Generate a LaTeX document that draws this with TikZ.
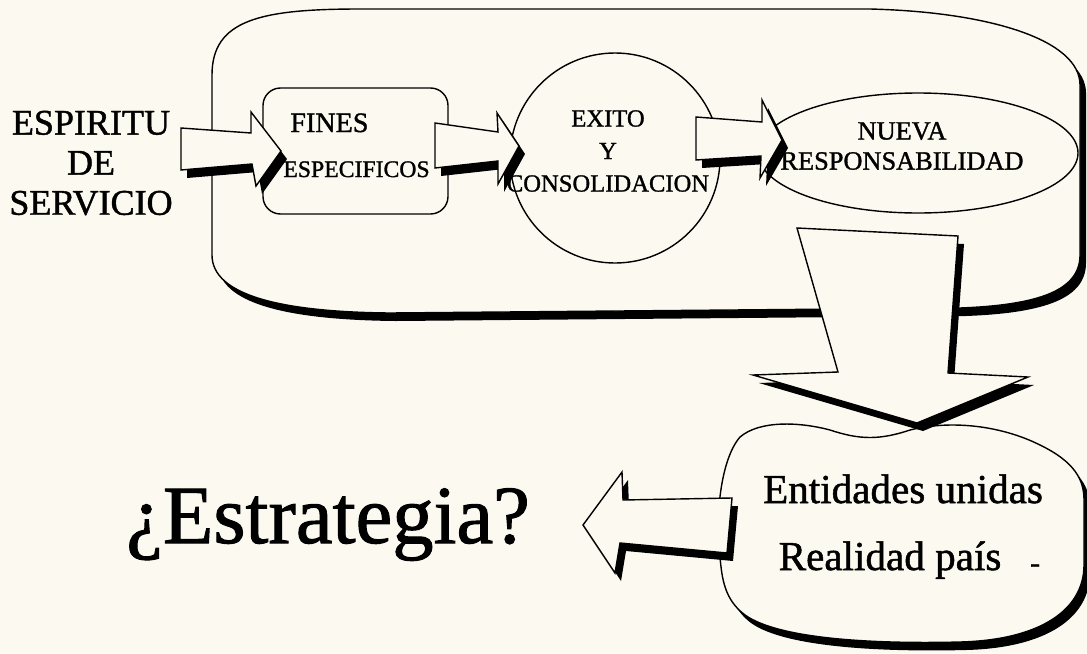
\documentclass[tikz,border=0pt]{standalone}
\usepackage{fontspec}
\setmainfont{Liberation Serif}[FakeBold=1.2]
\usetikzlibrary{shapes.geometric, shadows}

\definecolor{papel}{RGB}{252,250,240}

\begin{document}
\begin{tikzpicture}[x=0.2mm, y=-0.2mm,
  borde/.style={draw=black, line width=0.8pt, fill=papel},
  sombra/.style={borde, drop shadow={shadow xshift=1.2mm, shadow yshift=-1.6mm, fill=black, opacity=1}},
  texto/.style={align=center, inner sep=0pt}]

  % Fondo
  \clip (0,0) rectangle (1087,653);
  \useasboundingbox (0,0) rectangle (1087,653);
  \fill[papel] (0,0) rectangle (1087,653);

  % Marco grande
  \path[sombra] (212,255) -- (212,75) .. controls (212,20) and (260,9) .. (360,9)
    -- (870,9) .. controls (990,12) and (1080,40) .. (1080,85)
    -- (1080,255) .. controls (1080,290) and (1040,305) .. (960,308)
    -- (390,313) .. controls (280,312) and (212,295) .. (212,255) -- cycle;

  % Cajas del proceso
  \node[borde, rounded corners=3.5mm, minimum width=37mm, minimum height=25.2mm, inner sep=0pt] (fines) at (355.5,151) {};
  \node[borde, circle, minimum size=42mm, inner sep=0pt] (exito) at (615,158) {};
  \node[borde, ellipse, minimum width=64mm, minimum height=24mm, inner sep=0pt] (nueva) at (918,153) {};

  % Textos
  \node[texto, font=\fontsize{20.5}{22.8}\selectfont] (espiritu) at (91,163) {ESPIRITU\\DE\\SERVICIO};
  \node[anchor=base west, inner sep=0pt, font=\fontsize{16}{19}\selectfont] (fines-a) at (290,132) {FINES};
  \node[anchor=base west, inner sep=0pt, font=\fontsize{13.5}{16}\selectfont] (fines-b) at (283,177) {ESPECIFICOS};
  \node[texto, font=\fontsize{14}{18.5}\selectfont] (exito-t) at (608,151) {EXITO\\Y\\CONSOLIDACION};
  \node[texto, font=\fontsize{15}{17.1}\selectfont] (nueva-t) at (902,146) {NUEVA\\RESPONSABILIDAD};

  % Flechas del proceso
  \path[sombra] (181,128) -- (251,133) -- (251,112) -- (281,151) -- (256,186) -- (252,164) -- (181,170) -- cycle;
  \path[sombra] (435,123) -- (498,132) -- (497,113) -- (519,146) -- (498,184) -- (498,161) -- (435,168) -- cycle;
  \path[sombra] (696,117) -- (762,122) -- (762,100) -- (782,140) -- (760,178) -- (761,156) -- (696,160) -- cycle;

  % Nube inferior
  \path[sombra] (720,557) .. controls (715,520) and (720,460) .. (740,437)
    .. controls (760,420) and (800,422) .. (830,430)
    .. controls (860,440) and (880,440) .. (910,430)
    .. controls (950,420) and (1000,425) .. (1040,445)
    .. controls (1075,462) and (1084,480) .. (1084,500)
    -- (1084,565) .. controls (1084,610) and (1040,640) .. (960,642)
    .. controls (880,644) and (780,640) .. (745,615)
    .. controls (725,600) and (722,580) .. (720,557) -- cycle;

  % Flecha hacia abajo
  \path[sombra] (797,228) -- (958,236) -- (948,373) -- (1028,377) -- (917,423) -- (753,375) -- (838,372) -- cycle;

  % Flecha hacia la izquierda
  \path[sombra] (732,498) -- (623,500) -- (622,472) -- (583,525) -- (615,573) -- (620,543) -- (727,553) -- cycle;

  \node[anchor=base, inner sep=0pt, font=\fontsize{23.4}{28}\selectfont] (entidades) at (903,503) {Entidades unidas};
  \node[anchor=base, inner sep=0pt, font=\fontsize{23.4}{28}\selectfont] (realidad) at (890,570) {Realidad país\rlap{\hspace{0.7em}\raisebox{-1.5pt}{\fontsize{17}{17}\selectfont -}}};
  \node[anchor=base, inner sep=0pt, font=\fontsize{47}{56}\selectfont] (estrategia) at (328,543) {¿Estrategia?};
\end{tikzpicture}
\end{document}
